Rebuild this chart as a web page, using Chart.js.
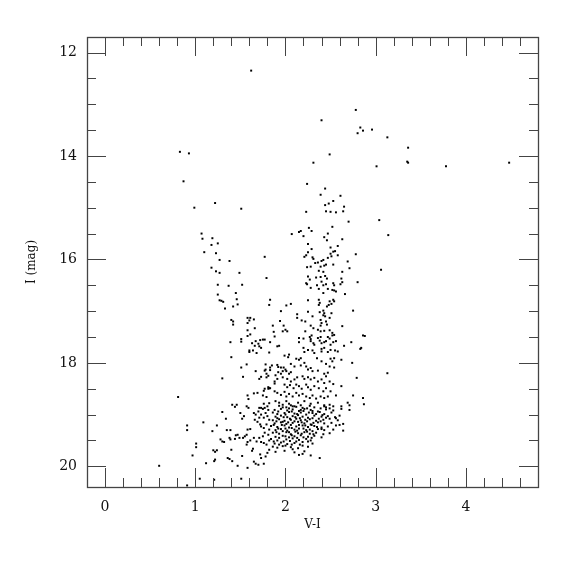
<!DOCTYPE html>
<html>
<head>
<meta charset="utf-8">
<script src="https://cdn.jsdelivr.net/npm/chart.js@4"></script>
<style>html,body{margin:0;padding:0;background:#fff;}canvas{display:block;}</style>
</head>
<body>
<canvas id="c" width="575" height="575"></canvas>
<script>
// V-I colour, I magnitude pairs
const brightStars = [[1.62,12.35],[2.78,13.11],[2.83,13.45],[2.80,13.56],[2.86,13.51],[2.96,13.49],[3.13,13.64],[3.36,13.84],[3.35,14.11],[3.36,14.13],[3.01,14.20],[3.78,14.20],[4.48,14.13],[2.40,13.31],[2.49,13.97],[2.31,14.13],[3.04,15.24],[3.14,15.53],[3.06,16.20],[2.86,17.47],[2.88,17.48],[2.84,17.71],[3.13,18.20],[2.87,18.80]];

const blueBranch = [[0.83,13.92],[0.93,13.95],[0.87,14.49],[1.22,14.91],[0.99,15.00],[1.51,15.02],[1.07,15.50],[1.08,15.60],[1.19,15.59],[1.18,15.72],[1.25,15.69],[1.10,15.86],[1.23,15.88],[1.27,16.01],[1.38,16.03],[1.77,15.95],[1.18,16.16],[1.23,16.23],[1.27,16.26],[1.49,16.26],[1.79,16.36],[1.25,16.49],[1.37,16.51],[1.52,16.49],
[1.25,16.68],[1.45,16.65],[1.46,16.77],[1.27,16.79],[1.29,16.80],[1.31,16.82],[1.47,16.87],[1.42,16.91],[1.33,16.95],[1.83,16.78],[1.82,16.88],[1.95,17.00],[1.40,17.17],[1.42,17.20],[1.42,17.26],[1.58,17.13],[1.61,17.13],[1.60,17.18],[1.65,17.16],[1.58,17.23],[1.66,17.33],[1.86,17.28],[1.94,17.19],[1.58,17.37],[1.87,17.40],[1.61,17.45],[1.58,17.48],[1.88,17.49],[1.51,17.54],[1.51,17.59],[1.39,17.60],[1.67,17.58],[1.72,17.56],[1.75,17.55],[1.77,17.55],[1.63,17.62],[1.70,17.63],[1.71,17.68],[1.73,17.71],[1.66,17.67],[1.83,17.60],[1.91,17.68],[1.93,17.67],[1.60,17.76],[1.60,17.79],[1.64,17.76],[1.68,17.81],[1.82,17.80],[1.40,17.89],[1.57,18.03],[1.51,18.09],[1.78,18.03],[1.85,18.05],[1.83,18.09],[1.83,18.14],[1.78,18.13],[1.77,18.15],[1.91,18.04],[1.92,18.08],[1.95,18.09],[1.67,18.16],[1.79,18.21],[1.81,18.25],[1.79,18.28],[1.73,18.27],[1.71,18.31],[1.53,18.27],[1.30,18.30],[1.89,18.24],[1.91,18.31],[1.88,18.36],[1.88,18.40],[1.81,18.47],[1.83,18.49],[1.77,18.50]];

const giantUpper = [[2.24,14.54],[2.44,14.63],[2.39,14.75],[2.61,14.77],[2.53,14.87],[2.48,14.92],[2.44,14.95],[2.65,14.98],[2.23,15.08],[2.45,15.07],[2.50,15.08],[2.56,15.09],[2.64,15.07],[2.70,15.27],[2.52,15.37],[2.26,15.39],[2.29,15.45],[2.17,15.45],[2.15,15.47],[2.07,15.51],[2.20,15.55],[2.47,15.50],[2.43,15.57],[2.46,15.63],[2.63,15.61],[2.25,15.70],[2.58,15.74],[2.29,15.80],[2.50,15.77],[2.53,15.85],[2.55,15.84],[2.50,15.89],[2.58,15.92],[2.78,15.90],[2.25,15.86],[2.23,15.92],[2.21,15.95],[2.30,15.96],[2.31,15.99],[2.47,15.97],[2.51,15.94]];

const giantMiddle = [[2.24,16.15],[2.28,16.14],[2.33,16.07],[2.36,16.06],[2.40,16.03],[2.42,16.01],[2.39,16.14],[2.43,16.12],[2.45,16.10],[2.53,16.10],[2.69,16.04],[2.71,16.17],[2.37,16.22],[2.42,16.24],[2.63,16.24],[2.25,16.33],[2.27,16.39],[2.23,16.46],[2.24,16.48],[2.34,16.35],[2.39,16.34],[2.44,16.32],[2.46,16.37],[2.62,16.37],[2.63,16.44],[2.80,16.44],[2.40,16.43],[2.35,16.50],[2.42,16.50],[2.45,16.48],[2.53,16.46],[2.54,16.50],[2.61,16.48],[2.28,16.55],[2.47,16.57],[2.52,16.59],[2.56,16.62],[2.54,16.60],[2.42,16.65],[2.37,16.57],[2.66,16.67],[2.25,16.79],[2.37,16.78],[2.38,16.84],[2.37,16.88],[2.49,16.81],[2.53,16.78],[2.54,16.81],[2.51,16.86],[2.48,16.88],[2.46,16.91],[2.06,16.86],[2.01,16.89],[2.75,16.99],[2.13,17.06],[2.13,17.13],[2.25,17.01],[2.30,17.10],[2.42,16.99],[2.43,17.04],[2.42,17.08],[2.44,17.10],[2.38,17.02],[2.51,17.04],[2.49,17.13],[2.18,17.18],[2.22,17.20],[2.39,17.17],[2.40,17.23],[2.39,17.28],[2.45,17.20],[2.46,17.26],[2.63,17.29],[2.28,17.28],[2.31,17.33],[1.98,17.28],[2.00,17.36],[1.97,17.39],[2.02,17.39],[2.22,17.39],[2.36,17.36],[2.39,17.39],[2.43,17.38],[2.49,17.37],[2.52,17.42],[2.15,17.52],[2.20,17.53],[2.27,17.50],[2.29,17.47],[2.28,17.54],[2.36,17.52],[2.39,17.50],[2.47,17.50],[2.49,17.53],[2.52,17.47],[2.54,17.46]];

const giantLower = [[2.15,17.60],[2.28,17.58],[2.31,17.62],[2.32,17.65],[2.38,17.57],[2.40,17.62],[2.43,17.60],[2.45,17.58],[2.53,17.60],[2.56,17.58],[2.50,17.65],[2.65,17.67],[2.73,17.60],[2.20,17.71],[2.25,17.75],[2.21,17.79],[2.30,17.76],[2.32,17.81],[2.40,17.73],[2.43,17.71],[2.40,17.78],[2.47,17.79],[2.50,17.75],[2.55,17.76],[2.58,17.78],[2.83,17.73],[1.99,17.86],[2.03,17.89],[2.04,17.84],[2.12,17.92],[2.15,17.94],[2.17,17.91],[2.35,17.91],[2.50,17.92],[2.52,17.97],[2.54,17.91],[2.62,17.94],[1.98,18.09],[2.00,18.13],[1.97,18.16],[2.06,18.02],[2.10,18.07],[2.17,18.05],[2.21,18.00],[2.23,18.07],[2.40,17.97],[2.45,18.02],[2.49,18.07],[2.54,18.09],[2.74,18.00],[1.92,18.18],[1.95,18.21],[2.01,18.16],[2.04,18.21],[2.06,18.18],[2.25,18.13],[2.28,18.10],[2.30,18.16],[2.36,18.15],[2.43,18.21],[2.45,18.26],[2.47,18.19],[2.79,18.29],[1.97,18.28],[2.02,18.31],[2.06,18.36],[2.10,18.32],[2.13,18.28],[2.19,18.26],[2.21,18.31],[2.25,18.28],[2.28,18.32],[2.32,18.29],[2.36,18.36],[2.40,18.32],[2.43,18.39],[2.49,18.36],[2.53,18.41],[1.99,18.42],[2.02,18.47],[2.05,18.43],[2.09,18.49],[2.12,18.42],[2.15,18.45],[2.18,18.50],[2.23,18.42],[2.25,18.47],[2.28,18.52],[2.32,18.45],[2.37,18.49],[2.42,18.55],[2.45,18.49],[2.50,18.55],[2.62,18.45],[1.88,18.55],[1.91,18.58],[1.95,18.62],[1.99,18.56],[2.01,18.65],[2.04,18.60],[2.08,18.65],[2.12,18.58],[2.15,18.63],[2.19,18.60],[2.23,18.65],[2.27,18.68],[2.30,18.63],[2.34,18.69],[2.39,18.65],[2.43,18.68],[2.47,18.65],[2.56,18.63],[2.75,18.63],[2.86,18.68],[1.89,18.74],[1.93,18.77],[1.97,18.81],[2.01,18.74],[2.04,18.79],[2.08,18.84],[2.14,18.77],[2.17,18.82],[2.21,18.74],[2.28,18.79],[2.36,18.77],[2.43,18.82],[2.45,18.86],[2.49,18.81],[2.53,18.84],[2.62,18.84],[2.69,18.77],[2.71,18.82]];

const subgiants = [[0.81,18.66],[1.58,18.63],[1.59,18.70],[1.65,18.59],[1.69,18.58],[1.75,18.63],[1.76,18.54],[1.79,18.66],[1.81,18.50],[1.82,18.49],[1.41,18.81],[1.44,18.85],[1.46,18.81],[1.57,18.84],[1.59,18.87],[1.71,18.87],[1.73,18.87],[1.76,18.79],[1.77,18.87],[1.80,18.84],[1.82,18.78]];

const faintBlue = [[0.60,19.99],[0.91,19.21],[0.91,19.30],[0.91,20.37],[0.97,19.79],[1.01,19.56],[1.01,19.63],[1.05,20.24],[1.09,19.15],[1.12,19.94],[1.19,19.32],[1.20,19.69],[1.22,19.72],[1.21,19.90],[1.22,19.87],[1.21,20.26],[1.24,19.69],[1.24,19.21],[1.30,18.95],[1.34,19.08],[1.28,19.48],[1.30,19.52],[1.32,19.53],[1.35,19.30],[1.39,19.30],[1.36,19.84],[1.38,19.86],[1.41,19.90],[1.40,19.68],[1.38,19.45],[1.39,19.48],[1.45,19.40],[1.47,19.39],[1.44,19.47],[1.49,19.45],[1.47,19.99],[1.51,20.24],[1.52,19.80],[1.50,18.97],[1.54,19.03],[1.52,19.08],[1.53,19.45],[1.55,19.42],[1.57,19.39],[1.58,19.53],[1.61,19.50],[1.57,19.58],[1.58,20.03],[1.58,19.29],[1.61,19.28],[1.64,19.66],[1.63,19.70],[1.65,19.91],[1.67,19.95],[1.70,19.97],[1.65,18.97],[1.67,19.00],[1.70,18.94],[1.73,19.00],[1.71,19.06],[1.66,19.10],[1.69,19.14],[1.72,19.19],[1.65,19.45],[1.68,19.52],[1.71,19.45],[1.73,19.53],[1.75,19.42],[1.72,19.77],[1.73,19.84],[1.78,19.81],[1.80,19.74],[1.73,19.23],[1.76,19.26],[1.79,19.19],[1.82,19.29],[1.77,19.35],[1.81,19.39],[1.76,19.06],[1.80,19.03],[1.82,19.10],[1.78,18.97],[1.81,18.91],[1.75,18.89],[1.76,19.55],[1.79,19.58],[1.82,19.50],[1.82,19.68],[1.76,19.95]];

const turnoff = [[1.93,18.83],[2.01,18.86],[2.06,18.82],[2.12,18.85],[2.19,18.87],[2.27,18.83],[2.32,18.86],[2.43,18.84],[2.49,18.88],
[1.88,18.91],[1.95,18.89],[2.02,18.92],[2.08,18.90],[2.15,18.93],[2.21,18.89],[2.28,18.91],[2.36,18.94],[2.45,18.90],[2.53,18.92],[2.62,18.89],[2.71,18.91],
[1.86,18.96],[1.91,18.99],[1.99,18.97],[2.04,18.95],[2.10,18.98],[2.17,18.96],[2.23,19.00],[2.30,18.97],[2.38,18.95],[2.43,18.99],[2.51,18.96],
[1.89,19.04],[1.95,19.02],[2.02,19.05],[2.08,19.03],[2.14,19.01],[2.19,19.04],[2.25,19.06],[2.32,19.02],[2.40,19.04],[2.47,19.03],[2.55,19.05],[2.60,19.02],
[1.86,19.11],[1.93,19.09],[1.99,19.12],[2.06,19.10],[2.12,19.08],[2.17,19.11],[2.27,19.09],[2.34,19.12],[2.42,19.10],[2.49,19.08],[2.58,19.11],
[1.88,19.17],[1.95,19.15],[2.01,19.18],[2.08,19.16],[2.14,19.14],[2.21,19.17],[2.28,19.19],[2.36,19.15],[2.43,19.17],[2.51,19.16],[2.64,19.18],
[1.84,19.22],[1.91,19.24],[1.99,19.21],[2.04,19.25],[2.12,19.23],[2.19,19.21],[2.25,19.24],[2.32,19.22],[2.40,19.25],[2.47,19.23],[2.56,19.21],
[1.89,19.30],[1.95,19.28],[2.02,19.31],[2.10,19.29],[2.15,19.27],[2.23,19.30],[2.30,19.32],[2.36,19.28],[2.43,19.30],[2.53,19.29],[2.64,19.31],
[1.86,19.35],[1.93,19.37],[2.01,19.34],[2.06,19.38],[2.14,19.36],[2.21,19.34],[2.27,19.37],[2.34,19.35],[2.42,19.38],[2.49,19.36],
[1.89,19.43],[1.97,19.41],[2.04,19.44],[2.10,19.42],[2.17,19.40],[2.25,19.43],[2.32,19.41],[2.40,19.44],
[1.84,19.47],[1.91,19.50],[2.01,19.48],[2.08,19.46],[2.15,19.49],[2.23,19.47],[2.28,19.50],
[1.88,19.56],[1.95,19.54],[2.02,19.57],[2.10,19.55],[2.19,19.53],[2.30,19.56],
[1.86,19.62],[1.91,19.64],[1.97,19.61],[2.06,19.63],[2.14,19.65],[2.25,19.62],
[1.89,19.72],[1.99,19.70],[2.10,19.73],[2.21,19.71],
[2.15,19.78],[2.19,19.76],[2.28,19.79],[2.38,19.84],[2.56,19.07],[2.60,19.20],[2.19,19.60],[2.08,19.67]];

const turnoffCore = [[1.97,18.86],[2.04,18.88],[2.10,18.84],[2.17,18.91],[2.24,18.88],[2.30,18.93],[2.39,18.88],
[1.92,18.94],[2.00,19.00],[2.07,18.94],[2.13,18.99],[2.20,18.93],[2.26,18.96],[2.34,18.99],[2.41,19.01],
[1.91,19.07],[1.98,19.05],[2.05,19.08],[2.11,19.05],[2.16,19.07],[2.22,19.10],[2.30,19.07],[2.37,19.08],[2.45,19.06],
[1.90,19.13],[1.97,19.14],[2.03,19.15],[2.10,19.13],[2.18,19.15],[2.24,19.13],[2.31,19.16],[2.39,19.13],
[1.87,19.20],[1.96,19.20],[2.06,19.20],[2.15,19.20],[2.22,19.21],[2.29,19.20],[2.35,19.24],
[1.92,19.27],[2.00,19.27],[2.07,19.26],[2.13,19.31],[2.20,19.27],[2.27,19.29],[2.40,19.28],
[1.90,19.34],[1.97,19.32],[2.04,19.34],[2.11,19.33],[2.18,19.37],[2.24,19.33],[2.31,19.38],
[1.93,19.45],[2.00,19.42],[2.07,19.40],[2.13,19.45],[2.20,19.44],[2.29,19.45],
[1.87,19.52],[1.98,19.52],[2.05,19.51],[2.12,19.52],[2.25,19.52],
[1.93,19.58],[2.00,19.60],[2.16,19.58],[2.07,19.58]];

const xRange = [-0.2, 4.8];
const yRange = [11.7, 20.4];
const xMajor = [0, 1, 2, 3, 4];
const yMajor = [12, 14, 16, 18, 20];

const allStars = [].concat(brightStars, blueBranch, giantUpper, giantMiddle, giantLower, subgiants, faintBlue, turnoff, turnoffCore)
  .map(p => ({x: p[0], y: p[1]}));

const FONT = "'DejaVu Serif', 'Liberation Serif', serif";

const frameTicks = {
  id: 'frameTicks',
  afterDatasetsDraw(chart) {
    const {ctx, chartArea: a, scales: {x, y}} = chart;
    ctx.save();
    ctx.strokeStyle = '#444';
    ctx.lineWidth = 1;
    ctx.beginPath();
    for (let i = -1; i <= 24; i++) {
      const v = i * 0.2;
      if (v < xRange[0] - 1e-9 || v > xRange[1] + 1e-9) continue;
      const major = xMajor.some(m => Math.abs(m - v) < 1e-6);
      const len = major ? 19 : 9;
      const px = Math.round(x.getPixelForValue(v)) + 0.5;
      ctx.moveTo(px, a.bottom); ctx.lineTo(px, a.bottom - len);
      ctx.moveTo(px, a.top); ctx.lineTo(px, a.top + len);
    }
    for (let i = 0; i <= 40; i++) {
      const v = 11.5 + i * 0.5;
      if (v < yRange[0] || v > yRange[1]) continue;
      const major = yMajor.some(m => Math.abs(m - v) < 1e-6);
      const len = major ? 19 : 9;
      const py = Math.round(y.getPixelForValue(v)) + 0.5;
      ctx.moveTo(a.left, py); ctx.lineTo(a.left + len, py);
      ctx.moveTo(a.right, py); ctx.lineTo(a.right - len, py);
    }
    ctx.stroke();
    ctx.lineWidth = 1.3;
    ctx.strokeRect(Math.round(a.left) + 0.5, Math.round(a.top) + 0.5, Math.round(a.right - a.left), Math.round(a.bottom - a.top));
    ctx.restore();
  }
};

new Chart(document.getElementById('c'), {
  type: 'scatter',
  data: {
    datasets: [{
      data: allStars,
      backgroundColor: '#000',
      borderWidth: 0,
      pointStyle: 'rect',
      pointRadius: 1.4,
      pointHoverRadius: 1.4
    }]
  },
  options: {
    responsive: false,
    animation: false,
    devicePixelRatio: 1,
    layout: {padding: {top: 37, right: 37, bottom: 0, left: 0}},
    plugins: {legend: {display: false}, tooltip: {enabled: false}},
    scales: {
      x: {
        type: 'linear', position: 'bottom', min: xRange[0], max: xRange[1],
        afterFit: s => { s.height = 88; },
        afterBuildTicks: s => { s.ticks = xMajor.map(v => ({value: v})); },
        grid: {display: false, drawTicks: false},
        border: {display: false},
        ticks: {padding: 12, color: '#111', maxRotation: 0, autoSkip: false,
                font: {family: FONT, size: 14}},
        title: {display: true, text: 'V-I', color: '#111', font: {family: FONT, size: 12},
                padding: {top: 0, bottom: 43}}
      },
      y: {
        type: 'linear', position: 'left', reverse: true, min: yRange[0], max: yRange[1],
        afterFit: s => { s.width = 87; },
        afterBuildTicks: s => { s.ticks = yMajor.map(v => ({value: v})); },
        grid: {display: false, drawTicks: false},
        border: {display: false},
        ticks: {padding: 10, color: '#111', autoSkip: false,
                font: {family: FONT, size: 14}},
        title: {display: true, text: 'I (mag)', color: '#111', font: {family: FONT, size: 12},
                padding: {top: 25, bottom: 0}}
      }
    }
  },
  plugins: [frameTicks]
});
</script>
</body>
</html>
